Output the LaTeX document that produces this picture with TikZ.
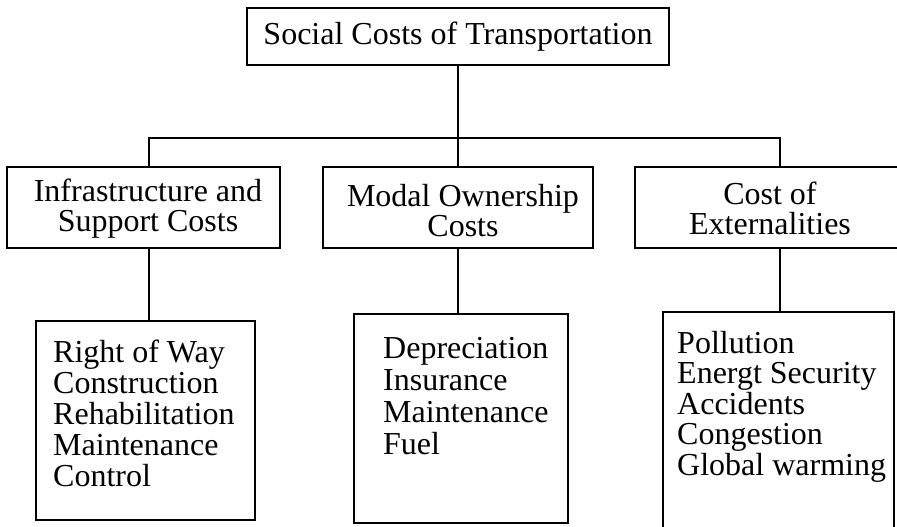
\documentclass[tikz,border=0pt]{standalone}
\usepackage{fontspec}
\setmainfont{Liberation Serif}
\begin{document}
\begin{tikzpicture}[x=1pt,y=-1pt,
  box/.style={draw, line width=2pt, inner sep=0pt},
  lbl/.style={inner sep=0pt, font=\fontsize{32}{30}\selectfont, align=center, anchor=base},
  list/.style={inner sep=0pt, align=left, anchor=base west},
  conn/.style={line width=2pt}]
\useasboundingbox (0,0) rectangle (897,527);
\fill[white] (0,0) rectangle (897,527);
% boxes
\node[box, minimum width=422pt, minimum height=57pt] (t) at (458,36.5) {};
\node[box, minimum width=273pt, minimum height=81pt] (l) at (143.5,207.5) {};
\node[box, minimum width=270pt, minimum height=81pt] (m) at (458,207.5) {};
\node[box, minimum width=270pt, minimum height=81pt] (r) at (770,207.5) {};
\node[box, minimum width=219pt, minimum height=199pt] (bl) at (145.5,420.5) {};
\node[box, minimum width=214pt, minimum height=209pt] (bm) at (461,418.5) {};
\node[box, minimum width=231pt, minimum height=228pt] (br) at (778.5,426) {};
% texts (base anchor = baseline of last line)
\node[lbl] (tt) at (458,45) {Social Costs of Transportation};
\node[lbl] (lt) at (148,231) {Infrastructure and\\Support Costs};
\node[lbl] (mt) at (463,236) {Modal Ownership\\Costs};
\node[lbl] (rt) at (770,234) {Cost of\\Externalities};
\node[list, font=\fontsize{32}{31}\selectfont] (blt) at (53,486) {Right of Way\\Construction\\Rehabilitation\\Maintenance\\Control};
\node[list, font=\fontsize{32}{32}\selectfont] (bmt) at (383,454) {Depreciation\\Insurance\\Maintenance\\Fuel};
\node[list, font=\fontsize{32}{30.5}\selectfont] (brt) at (677,475) {Pollution\\Energt Security\\Accidents\\Congestion\\Global warming};
% connectors
\coordinate (jl) at (149,138);
\coordinate (jm) at (458,138);
\coordinate (jr) at (780,138);
\draw[conn] (t.south) -- (m.north);
\draw[conn] (jl |- l.north) -- (jl) -- (jr) -- (jr |- r.north);
\draw[conn] (jl |- l.south) -- (jl |- bl.north);
\draw[conn] (jm |- m.south) -- (jm |- bm.north);
\draw[conn] (jr |- r.south) -- (jr |- br.north);
\end{tikzpicture}
\end{document}
